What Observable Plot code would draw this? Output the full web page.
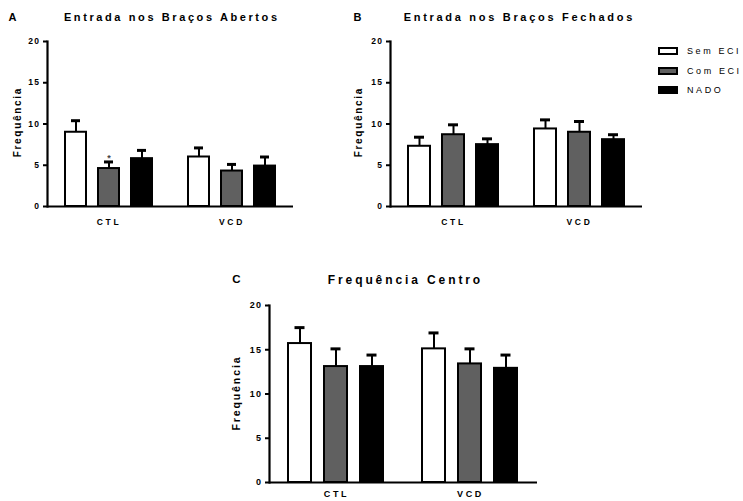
<!DOCTYPE html>
<html>
<head>
<meta charset="utf-8">
<script src="https://cdn.jsdelivr.net/npm/d3@7"></script>
<script src="https://cdn.jsdelivr.net/npm/@observablehq/plot@0.6"></script>
<style>
  html, body { margin: 0; padding: 0; background: #fff; }
  #root { position: relative; width: 743px; height: 501px; overflow: hidden; font-family: "Liberation Sans", Arial, sans-serif; color: #000; }
  .panel { position: absolute; }
  .panel svg { overflow: visible; }
  .lbl { position: absolute; white-space: nowrap; line-height: 1; }
  .panel [aria-label="fx-axis tick label"] text { letter-spacing: 2.7px; }
  .panel [aria-label="y-axis tick label"] text { letter-spacing: 1.4px; }
</style>
</head>
<body>
<div id="root"></div>
<script>
// ---- data ----
const groups = ["CTL", "VCD"];
const series = ["Sem ECI", "Com ECI", "NADO"];
const fills = ["#ffffff", "#606060", "#000000"];
const yTicks = [0, 5, 10, 15, 20];

// Panel A: Entrada nos Braços Abertos (CTL: Sem, Com, NADO ; VCD: Sem, Com, NADO)
const abertosMean = [9.0, 4.6, 5.8, 6.0, 4.3, 4.9];
const abertosErr  = [1.4, 0.8, 1.0, 1.1, 0.8, 1.1];
const abertosMark = ["", "*", "", "", "", ""];

// Panel B: Entrada nos Braços Fechados
const fechadosMean = [7.3, 8.7, 7.5, 9.4, 9.0, 8.1];
const fechadosErr  = [1.1, 1.2, 0.7, 1.1, 1.3, 0.6];
const fechadosMark = ["", "", "", "", "", ""];

// Panel C: Frequência Centro
const centroMean = [15.7, 13.1, 13.1, 15.1, 13.4, 12.9];
const centroErr  = [1.8, 2.0, 1.3, 1.8, 1.7, 1.5];
const centroMark = ["", "", "", "", "", ""];

function rows(mean, err, mark) {
  const out = [];
  groups.forEach((g, gi) => series.forEach((s, si) => {
    const i = gi * series.length + si;
    out.push({group: g, series: s, mean: mean[i], top: mean[i] + err[i], mark: mark[i]});
  }));
  return out;
}

const root = document.getElementById("root");

function label(text, cx, cy, opts = {}) {
  const d = document.createElement("div");
  d.className = "lbl";
  d.textContent = text;
  const ls = opts.ls || 0;
  d.style.fontSize = (opts.size || 10) + "px";
  d.style.fontWeight = opts.weight || "bold";
  d.style.letterSpacing = ls + "px";
  d.style.paddingLeft = ls + "px";
  d.style.left = cx + "px";
  d.style.top = cy + "px";
  d.style.transform = "translate(-50%,-50%)" + (opts.rotate ? " rotate(-90deg)" : "");
  root.appendChild(d);
}

function panel({data, left, top, width, height, marginLeft, marginRight, marginTop, marginBottom, fontSize, capInset, fxPad}) {
  const chart = Plot.plot({
    width, height, marginLeft, marginRight, marginTop, marginBottom,
    style: {fontFamily: '"Liberation Sans", Arial, sans-serif', fontSize: fontSize + "px", fontWeight: "bold", color: "#000", background: "transparent"},
    y: {domain: [0, 20]},
    x: {domain: series, axis: null, paddingInner: 0.355, paddingOuter: 0.51},
    fx: {domain: groups, paddingInner: 0, paddingOuter: 0},
    color: {domain: series, range: fills},
    marks: [
      Plot.barY(data, {fx: "group", x: "series", y: "mean", fill: "series", stroke: "#000", strokeWidth: 2}),
      Plot.ruleX(data, {fx: "group", x: "series", y1: "mean", y2: "top", stroke: "#000", strokeWidth: 2}),
      Plot.tickY(data, {fx: "group", x: "series", y: "top", stroke: "#000", strokeWidth: 3, inset: capInset}),
      Plot.text(data.filter(d => d.mark), {fx: "group", x: "series", y: "top", text: "mark", dy: -4, fill: "#444", fontSize: 9}),
      Plot.ruleY([0], {stroke: "#000", strokeWidth: 2.2}),
      Plot.frame({anchor: "left", facetAnchor: "left", stroke: "#000", strokeWidth: 2.2}),
      Plot.axisY({ticks: yTicks, tickSize: 4, tickPadding: 3, strokeWidth: 2, label: null}),
      Plot.axisFx({anchor: "bottom", tickSize: 0, tickPadding: fxPad, label: null})
    ]
  });
  const wrap = document.createElement("div");
  wrap.className = "panel";
  wrap.style.left = left + "px";
  wrap.style.top = top + "px";
  wrap.appendChild(chart);
  root.appendChild(wrap);
}

// Panel A
panel({data: rows(abertosMean, abertosErr, abertosMark), left: 0, top: 0, width: 300, height: 232,
  marginLeft: 47, marginRight: 7, marginTop: 41, marginBottom: 26, fontSize: 8.5, capInset: 6, fxPad: 12});
// Panel B
panel({data: rows(fechadosMean, fechadosErr, fechadosMark), left: 340, top: 0, width: 310, height: 232,
  marginLeft: 50, marginRight: 8, marginTop: 41, marginBottom: 26, fontSize: 8.5, capInset: 6, fxPad: 12});
// Panel C
panel({data: rows(centroMean, centroErr, centroMark), left: 220, top: 260, width: 325, height: 241,
  marginLeft: 49, marginRight: 8, marginTop: 45, marginBottom: 19, fontSize: 9, capInset: 6.5, fxPad: 8});

// titles & panel letters
label("A", 12.5, 17, {size: 11});
label("Entrada nos Braços Abertos", 170.5, 17, {size: 11, ls: 2.6});
label("B", 357.5, 17, {size: 11});
label("Entrada nos Braços Fechados", 518, 17, {size: 11, ls: 2.7});
label("C", 236.5, 279.5, {size: 11.5});
label("Frequência Centro", 404, 280, {size: 12, ls: 2.9});

// y-axis titles
label("Frequência", 17.5, 123, {size: 10, ls: 1.7, rotate: true});
label("Frequência", 359, 123, {size: 10, ls: 1.7, rotate: true});
label("Frequência", 236, 394, {size: 10.5, ls: 1.9, rotate: true});

// legend
series.forEach((s, i) => {
  const cy = [51, 71, 90][i];
  const box = document.createElement("div");
  box.style.cssText = `position:absolute;left:658px;top:${cy - 4}px;width:16px;height:4px;border:2px solid #000;background:${fills[i]};`;
  root.appendChild(box);
  const t = document.createElement("div");
  t.className = "lbl";
  t.textContent = s;
  t.style.cssText += `left:687px;top:${cy}px;font-size:9px;letter-spacing:2.6px;transform:translateY(-50%);font-weight:normal;`;
  root.appendChild(t);
});
</script>
</body>
</html>
